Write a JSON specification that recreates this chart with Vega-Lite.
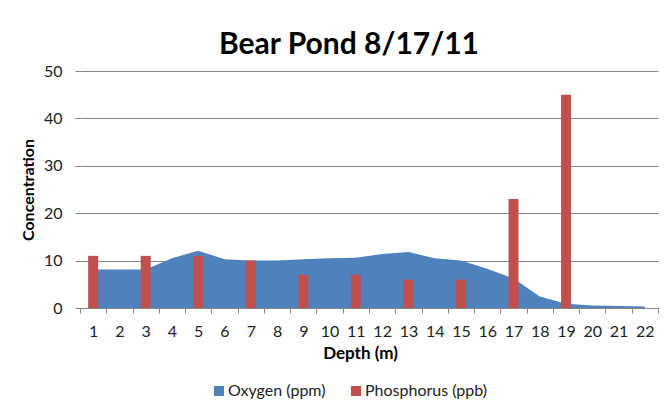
{
  "$schema": "https://vega.github.io/schema/vega-lite/v6.json",
  "autosize": "none",
  "padding": {"left": 80, "top": 71, "right": 11, "bottom": 98},
  "width": 578,
  "height": 237,
  "background": "white",
  "config": {
    "font": "Lato",
    "view": {"stroke": null},
    "axis": {"labelFont": "Lato", "titleFont": "Lato"}
  },
  "title": {
    "text": "Bear Pond 8/17/11",
    "font": "Lato",
    "fontSize": 30,
    "fontWeight": "bold",
    "color": "#000000",
    "anchor": "middle",
    "dx": -20,
    "dy": 37,
    "baseline": "alphabetic",
    "offset": 16
  },
  "datasets": {
    "oxygen": [
      {"depth": 1, "series": "Oxygen (ppm)", "value": 8.1},
      {"depth": 2, "series": "Oxygen (ppm)", "value": 8.1},
      {"depth": 3, "series": "Oxygen (ppm)", "value": 8.1},
      {"depth": 4, "series": "Oxygen (ppm)", "value": 10.5},
      {"depth": 5, "series": "Oxygen (ppm)", "value": 12.1},
      {"depth": 6, "series": "Oxygen (ppm)", "value": 10.3},
      {"depth": 7, "series": "Oxygen (ppm)", "value": 10.0},
      {"depth": 8, "series": "Oxygen (ppm)", "value": 10.0},
      {"depth": 9, "series": "Oxygen (ppm)", "value": 10.3},
      {"depth": 10, "series": "Oxygen (ppm)", "value": 10.5},
      {"depth": 11, "series": "Oxygen (ppm)", "value": 10.6},
      {"depth": 12, "series": "Oxygen (ppm)", "value": 11.4},
      {"depth": 13, "series": "Oxygen (ppm)", "value": 11.8},
      {"depth": 14, "series": "Oxygen (ppm)", "value": 10.5},
      {"depth": 15, "series": "Oxygen (ppm)", "value": 10.0},
      {"depth": 16, "series": "Oxygen (ppm)", "value": 8.3},
      {"depth": 17, "series": "Oxygen (ppm)", "value": 6.2},
      {"depth": 18, "series": "Oxygen (ppm)", "value": 2.4},
      {"depth": 19, "series": "Oxygen (ppm)", "value": 0.9},
      {"depth": 20, "series": "Oxygen (ppm)", "value": 0.55},
      {"depth": 21, "series": "Oxygen (ppm)", "value": 0.4},
      {"depth": 22, "series": "Oxygen (ppm)", "value": 0.3}
    ],
    "phosphorus": [
      {"depth": 1, "series": "Phosphorus (ppb)", "value": 11},
      {"depth": 3, "series": "Phosphorus (ppb)", "value": 11},
      {"depth": 5, "series": "Phosphorus (ppb)", "value": 11},
      {"depth": 7, "series": "Phosphorus (ppb)", "value": 10},
      {"depth": 9, "series": "Phosphorus (ppb)", "value": 7},
      {"depth": 11, "series": "Phosphorus (ppb)", "value": 7},
      {"depth": 13, "series": "Phosphorus (ppb)", "value": 6},
      {"depth": 15, "series": "Phosphorus (ppb)", "value": 6},
      {"depth": 17, "series": "Phosphorus (ppb)", "value": 23},
      {"depth": 19, "series": "Phosphorus (ppb)", "value": 45}
    ]
  },
  "encoding": {
    "x": {
      "field": "depth",
      "type": "ordinal",
      "scale": {"domain": [1,2,3,4,5,6,7,8,9,10,11,12,13,14,15,16,17,18,19,20,21,22], "paddingInner": 0, "paddingOuter": 0},
      "axis": {
        "title": "Depth (m)",
        "titleFontSize": 17,
        "titleFontWeight": "bold",
        "titleColor": "#000000",
        "titleX": 280,
        "titlePadding": 6,
        "labelAngle": 0,
        "labelFontSize": 16,
        "labelColor": "#222222",
        "labelPadding": 10,
        "labelOverlap": false,
        "tickBand": "extent",
        "tickSize": 5,
        "tickColor": "#868686",
        "domainColor": "#868686",
        "grid": false
      }
    },
    "y": {
      "field": "value",
      "type": "quantitative",
      "scale": {"domain": [0, 50], "nice": false},
      "axis": {
        "title": "Concentration",
        "titleFontSize": 16,
        "titleFontWeight": "bold",
        "titleColor": "#000000",
        "titlePadding": 7,
        "values": [0, 10, 20, 30, 40, 50],
        "labelFontSize": 16,
        "labelColor": "#222222",
        "labelPadding": 13,
        "tickSize": 5,
        "tickColor": "#868686",
        "gridColor": "#868686",
        "domain": false
      }
    },
    "color": {
      "field": "series",
      "type": "nominal",
      "scale": {"domain": ["Oxygen (ppm)", "Phosphorus (ppb)"], "range": ["#4F81BD", "#C0504D"]},
      "legend": {
        "title": null,
        "orient": "none",
        "direction": "horizontal",
        "legendX": 131,
        "legendY": 312,
        "padding": 0,
        "symbolType": "square",
        "symbolSize": 100,
        "symbolStrokeWidth": 0,
        "labelFontSize": 16,
        "labelFont": "Lato",
        "labelColor": "#222222",
        "labelOffset": 1,
        "columnPadding": 22
      }
    }
  },
  "layer": [
    {
      "data": {"name": "oxygen"},
      "mark": {"type": "area", "opacity": 1},
      "encoding": {
        "x": {"field": "depth", "type": "ordinal", "bandPosition": 0.5}
      }
    },
    {
      "data": {"name": "phosphorus"},
      "mark": {"type": "bar", "width": {"band": 0.38}}
    }
  ]
}
